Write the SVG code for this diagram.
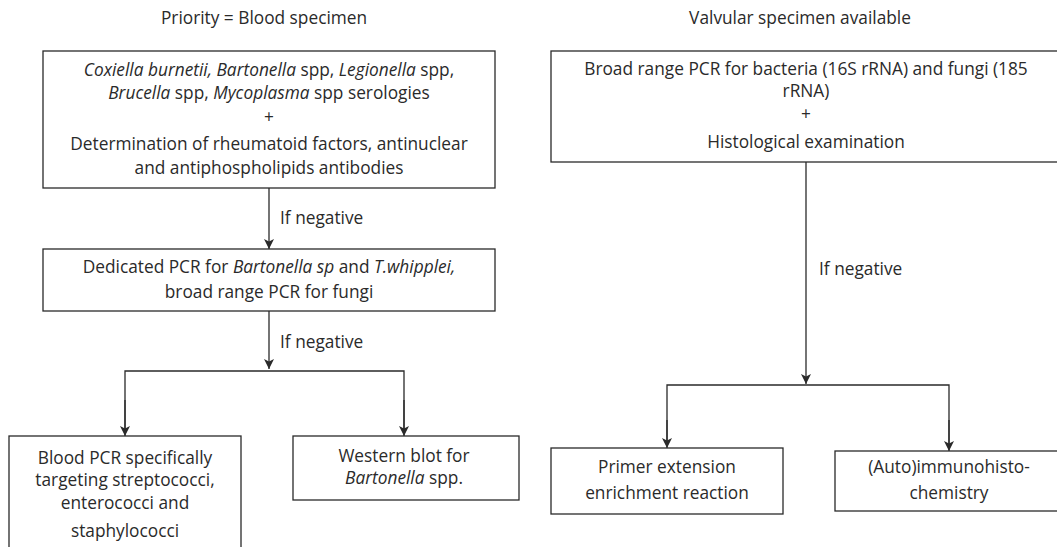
<svg xmlns="http://www.w3.org/2000/svg" width="1057" height="547" viewBox="0 0 1057 547">
  <style>
    .box { fill: #ffffff; stroke: #2a2a2a; stroke-width: 1.3; }
    .wire { fill: none; stroke: #2a2a2a; stroke-width: 1.3; }
    text { font-family: "Open Sans", "Liberation Sans", sans-serif; font-size: 17.3px; fill: #2a2a2a; text-anchor: middle; }
    .lbl { text-anchor: start; }
    .it { font-style: italic; }
  </style>
  <defs>
    <marker id="arrow" viewBox="0 0 10 12" refX="10" refY="6" markerWidth="10" markerHeight="12" markerUnits="userSpaceOnUse" orient="auto">
      <path d="M0,1 L10,6 L0,11 L2.5,6 Z" fill="#2a2a2a"/>
    </marker>
  </defs>

  <!-- column headings -->
  <g id="heading-blood">
    <text x="264" y="24">Priority = Blood specimen</text>
  </g>
  <g id="heading-valve">
    <text x="800" y="24">Valvular specimen available</text>
  </g>

  <!-- connectors -->
  <g id="connectors">
    <line class="wire" x1="269" y1="188" x2="269" y2="249" marker-end="url(#arrow)"/>
    <line class="wire" x1="269" y1="311" x2="269" y2="369" marker-end="url(#arrow)"/>
    <polyline class="wire" points="125,434 125,371 404,371 404,434"/>
    <line class="wire" x1="125" y1="400" x2="125" y2="436" marker-end="url(#arrow)"/>
    <line class="wire" x1="404" y1="400" x2="404" y2="436" marker-end="url(#arrow)"/>

    <line class="wire" x1="806" y1="162" x2="806" y2="384" marker-end="url(#arrow)"/>
    <polyline class="wire" points="667,446 667,385 949,385 949,446"/>
    <line class="wire" x1="667" y1="420" x2="667" y2="448" marker-end="url(#arrow)"/>
    <line class="wire" x1="949" y1="420" x2="949" y2="451" marker-end="url(#arrow)"/>

    <text class="lbl" x="280" y="224">If negative</text>
    <text class="lbl" x="280" y="348">If negative</text>
    <text class="lbl" x="819" y="275">If negative</text>
  </g>

  <!-- blood specimen pathway -->
  <g id="serologies">
    <rect class="box" x="43" y="51" width="452" height="137"/>
    <text x="269" y="76"><tspan class="it">Coxiella burnetii, Bartonella</tspan> spp, <tspan class="it">Legionella</tspan> spp,</text>
    <text x="269" y="99"><tspan class="it">Brucella</tspan> spp, <tspan class="it">Mycoplasma</tspan> spp serologies</text>
    <text x="269" y="123">+</text>
    <text x="269" y="150">Determination of rheumatoid factors, antinuclear</text>
    <text x="269" y="174">and antiphospholipids antibodies</text>
  </g>

  <g id="dedicated-pcr">
    <rect class="box" x="43" y="249" width="452" height="62"/>
    <text x="269" y="273">Dedicated PCR for <tspan class="it">Bartonella sp</tspan> and <tspan class="it">T.whipplei,</tspan></text>
    <text x="269" y="298">broad range PCR for fungi</text>
  </g>

  <g id="blood-pcr">
    <rect class="box" x="9" y="436" width="232" height="130"/>
    <text x="125" y="464">Blood PCR specifically</text>
    <text x="125" y="486">targeting streptococci,</text>
    <text x="125" y="509">enterococci and</text>
    <text x="125" y="537">staphylococci</text>
  </g>

  <g id="western-blot">
    <rect class="box" x="293" y="436" width="226" height="64"/>
    <text x="404" y="462">Western blot for</text>
    <text x="404" y="484"><tspan class="it">Bartonella</tspan> spp.</text>
  </g>

  <!-- valvular specimen pathway -->
  <g id="broad-range-pcr">
    <rect class="box" x="551" y="51" width="512" height="111"/>
    <text x="806" y="75">Broad range PCR for bacteria (16S rRNA) and fungi (185</text>
    <text x="806" y="97">rRNA)</text>
    <text x="806" y="120">+</text>
    <text x="806" y="148">Histological examination</text>
  </g>

  <g id="primer-extension">
    <rect class="box" x="551" y="448" width="232" height="66"/>
    <text x="667" y="473">Primer extension</text>
    <text x="667" y="499">enrichment reaction</text>
  </g>

  <g id="immunohistochemistry">
    <rect class="box" x="835" y="451" width="228" height="60"/>
    <text x="949" y="473">(Auto)immunohisto-</text>
    <text x="949" y="499">chemistry</text>
  </g>
</svg>
